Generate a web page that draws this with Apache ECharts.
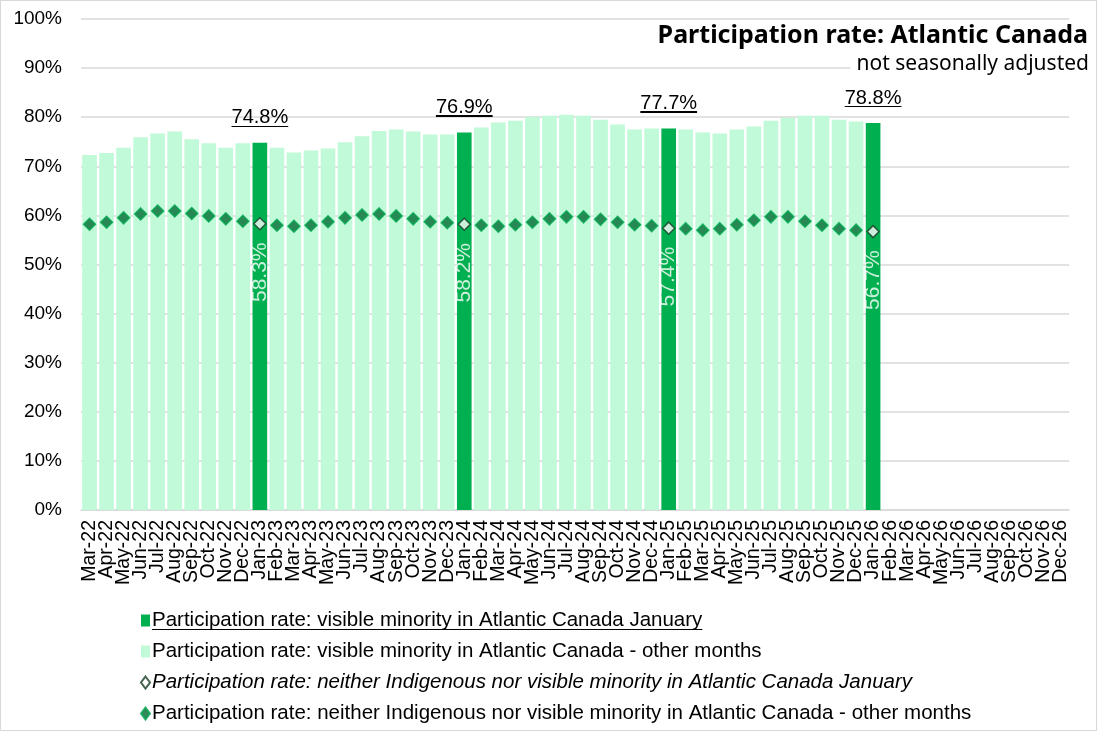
<!DOCTYPE html>
<html>
<head>
<meta charset="utf-8">
<script src="https://cdn.jsdelivr.net/npm/echarts@6/dist/echarts.min.js"></script>
<style>
  html, body { margin: 0; padding: 0; background: #fff; }
  #chart { width: 1095px; height: 729px; border: 1px solid #d9d9d9; }
</style>
</head>
<body>
<div id="chart"></div>
<script>
const categories = [
  'Mar-22','Apr-22','May-22','Jun-22','Jul-22','Aug-22','Sep-22','Oct-22','Nov-22','Dec-22',
  'Jan-23','Feb-23','Mar-23','Apr-23','May-23','Jun-23','Jul-23','Aug-23','Sep-23','Oct-23','Nov-23','Dec-23',
  'Jan-24','Feb-24','Mar-24','Apr-24','May-24','Jun-24','Jul-24','Aug-24','Sep-24','Oct-24','Nov-24','Dec-24',
  'Jan-25','Feb-25','Mar-25','Apr-25','May-25','Jun-25','Jul-25','Aug-25','Sep-25','Oct-25','Nov-25','Dec-25',
  'Jan-26','Feb-26','Mar-26','Apr-26','May-26','Jun-26','Jul-26','Aug-26','Sep-26','Oct-26','Nov-26','Dec-26'
];
// visible minority participation rate (Mar-22 .. Jan-26)
const visibleMinority = [
  72.3,72.7,73.8,75.9,76.7,77.1,75.5,74.7,73.8,74.7,
  74.8,73.8,72.8,73.2,73.6,74.9,76.1,77.2,77.5,77.1,76.5,76.5,
  76.9,77.9,78.9,79.3,80.1,80.3,80.5,80.3,79.5,78.5,77.5,77.7,
  77.7,77.5,76.9,76.7,77.5,78.1,79.3,79.9,80.3,80.3,79.5,79.1,
  78.8
];
// neither Indigenous nor visible minority participation rate
const neitherGroup = [
  58.2,58.6,59.5,60.3,60.9,60.9,60.4,59.9,59.3,58.8,
  58.3,58.0,57.8,58.0,58.7,59.5,60.1,60.3,59.9,59.3,58.7,58.5,
  58.2,58.0,57.8,58.1,58.6,59.3,59.7,59.7,59.2,58.6,58.1,57.9,
  57.4,57.3,57.0,57.3,58.1,59.0,59.7,59.7,58.8,58.0,57.3,57.0,
  56.7
];
const yTicks = [0,10,20,30,40,50,60,70,80,90,100];

const isJan = c => c.startsWith('Jan');
const barJan = categories.map((c,i) => (isJan(c) && i < visibleMinority.length) ? visibleMinority[i] : null);
const barOther = categories.map((c,i) => (!isJan(c) && i < visibleMinority.length) ? visibleMinority[i] : null);
const dotJan = categories.map((c,i) => (isJan(c) && i < neitherGroup.length) ? neitherGroup[i] : null);
const dotOther = categories.map((c,i) => (!isJan(c) && i < neitherGroup.length) ? neitherGroup[i] : null);

const underlineBg = {
  type: 'linear', x: 0, y: 0, x2: 0, y2: 1,
  colorStops: [
    {offset: 0, color: 'rgba(0,0,0,0)'},
    {offset: 0.9, color: 'rgba(0,0,0,0)'},
    {offset: 0.9, color: '#000'},
    {offset: 0.96, color: '#000'},
    {offset: 0.96, color: 'rgba(0,0,0,0)'},
    {offset: 1, color: 'rgba(0,0,0,0)'}
  ]
};

const names = [
  'Participation rate: visible minority in Atlantic Canada January',
  'Participation rate: visible minority in Atlantic Canada - other months',
  'Participation rate: neither Indigenous nor visible minority in Atlantic Canada January',
  'Participation rate: neither Indigenous nor visible minority in Atlantic Canada - other months'
];

const chart = echarts.init(document.getElementById('chart'));
chart.setOption({
  animation: false,
  textStyle: { fontFamily: 'Liberation Sans, Arial, sans-serif' },
  title: [
    { text: 'Participation rate: Atlantic Canada', right: 3, top: 17,
      textStyle: { fontSize: 25, fontWeight: 'bold', color: '#000', fontFamily: 'Noto Sans, Liberation Sans, sans-serif' } },
    { text: 'not seasonally adjusted', right: 5, top: 51,
      backgroundColor: '#fff', padding: [2, 2, 2, 6],
      textStyle: { fontSize: 21, fontWeight: 'normal', color: '#000', fontFamily: 'Noto Sans, Liberation Sans, sans-serif' } }
  ],
  grid: { left: 80, right: 27, top: 18, bottom: 220 },
  legend: {
    orient: 'vertical', left: 134, top: 604, itemGap: 10, height: 122,
    itemWidth: 9, itemHeight: 12,
    textStyle: { fontSize: 20.5, lineHeight: 21, color: '#000', padding: [0,0,0,-3],
      rich: { u: { fontSize: 20.5, lineHeight: 21, color: '#000', backgroundColor: underlineBg } } },
    formatter: function (n) { return n === names[0] ? '{u|' + n + '}' : n; },
    data: [
      { name: names[0], icon: 'rect' },
      { name: names[1], icon: 'rect' },
      { name: names[2], icon: 'diamond', textStyle: { fontStyle: 'italic' } },
      { name: names[3], icon: 'diamond' }
    ]
  },
  xAxis: {
    type: 'category', data: categories,
    axisLine: { lineStyle: { color: '#d9d9d9', width: 1.5 } },
    axisTick: { show: false },
    axisLabel: { rotate: 90, interval: 0, fontSize: 19.5, color: '#000', margin: 10 }
  },
  yAxis: {
    type: 'value', min: 0, max: 100, interval: 10,
    axisLine: { show: false }, axisTick: { show: false },
    splitLine: { lineStyle: { color: '#d9d9d9', width: 1.5 } },
    axisLabel: { formatter: v => yTicks.includes(v) ? v + '%' : '', fontSize: 19, color: '#000', margin: 19 }
  },
  series: [
    {
      name: names[0], type: 'bar', data: barJan, barWidth: '86%', barGap: '-100%',
      itemStyle: { color: '#00b050' },
      label: { show: true, position: 'top', distance: 15, formatter: p => '{u|' + p.value.toFixed(1) + '%}',
        rich: { u: { fontSize: 20, color: '#000', backgroundColor: underlineBg } } }
    },
    {
      name: names[1], type: 'bar', data: barOther, barWidth: '86%', barGap: '-100%',
      itemStyle: { color: '#c0fad8' }
    },
    {
      name: names[2], type: 'scatter', data: dotJan, symbol: 'diamond', symbolSize: 12, z: 5,
      itemStyle: { color: '#ffffff', borderColor: '#153d26', borderWidth: 1.5 },
      label: { show: true, position: 'bottom', distance: 12, rotate: 90, align: 'right', verticalAlign: 'middle',
        formatter: p => p.value.toFixed(1) + '%', color: '#fff', fontSize: 21 }
    },
    {
      name: names[3], type: 'scatter', data: dotOther, symbol: 'diamond', symbolSize: 12, z: 5,
      itemStyle: { color: '#006b32', borderColor: '#00a650', borderWidth: 1.5 }
    }
  ]
});
</script>
</body>
</html>
